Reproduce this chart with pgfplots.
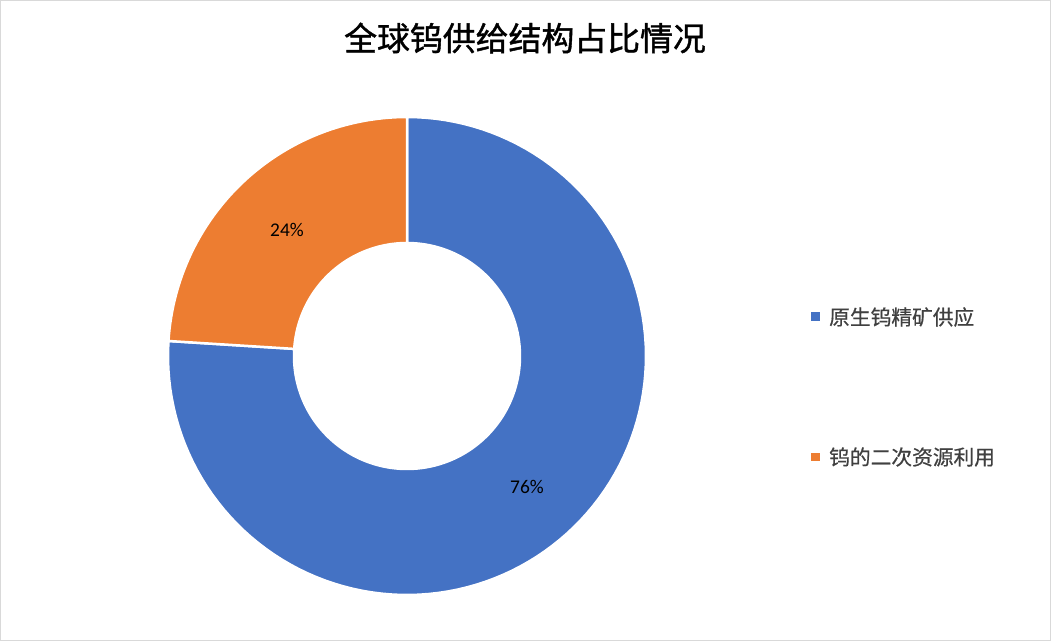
\documentclass[border=0pt]{standalone}
\usepackage{pgfplots}
\pgfplotsset{compat=1.18}
\usepackage{pgfplotstable}
\usepgfplotslibrary{fillbetween}
\usepackage{fontspec}
\setmainfont{Carlito}
\newfontfamily\cjk[FakeBold=0.6]{Noto Sans CJK SC}
\newfontfamily\cjktitle[FakeBold=1.2]{Noto Sans CJK SC}

\definecolor{primary}{HTML}{4472C4}
\definecolor{secondary}{HTML}{ED7D31}
\definecolor{legendtext}{HTML}{404040}
\definecolor{frame}{HTML}{D9D9D9}

% share of global tungsten supply, in percent
\pgfplotstableread{
source value
primary 76
secondary 24
}\supply

\pgfplotstablegetelem{0}{value}\of\supply
\let\vPrimary\pgfplotsretval
\pgfplotstablegetelem{1}{value}\of\supply
\let\vSecondary\pgfplotsretval

% slices run clockwise from twelve o'clock
\pgfmathsetmacro{\aStart}{90}
\pgfmathsetmacro{\aMid}{90-3.6*\vPrimary}
\pgfmathsetmacro{\aEnd}{\aMid-3.6*\vSecondary}

\def\cx{407}
\def\cy{285}
\def\Ro{239}
\def\Ri{113}

\begin{document}
\begin{tikzpicture}
\begin{axis}[
  width=1051bp, height=641bp, scale only axis,
  xmin=0, xmax=1051, ymin=0, ymax=641,
  hide axis, clip=false,
]
% outer frame
\draw[frame, line width=1bp] (axis cs:0.5,0.5) rectangle (axis cs:1050.5,640.5);

% primary concentrate slice
\addplot[draw=none, name path=oA, domain=\aMid:\aStart, samples=120]
  ({\cx+\Ro*cos(x)}, {\cy+\Ro*sin(x)});
\addplot[draw=none, name path=iA, domain=\aMid:\aStart, samples=120]
  ({\cx+\Ri*cos(x)}, {\cy+\Ri*sin(x)});
\addplot[fill=primary, draw=white, line width=2.5bp] fill between[of=oA and iA];

% secondary resources slice
\addplot[draw=none, name path=oB, domain=\aEnd:\aMid, samples=60]
  ({\cx+\Ro*cos(x)}, {\cy+\Ro*sin(x)});
\addplot[draw=none, name path=iB, domain=\aEnd:\aMid, samples=60]
  ({\cx+\Ri*cos(x)}, {\cy+\Ri*sin(x)});
\addplot[fill=secondary, draw=white, line width=2.5bp] fill between[of=oB and iB];

% data labels
\node[font=\fontsize{19.5}{22}\selectfont, text=black] at (axis cs:287,411) {\vSecondary\%};
\node[font=\fontsize{19.5}{22}\selectfont, text=black] at (axis cs:527,154) {\vPrimary\%};

% title
\node[font=\cjktitle\fontsize{33}{38}\selectfont, text=black] at (axis cs:525,603) {全球钨供给结构占比情况};

% legend
\fill[primary] (axis cs:811,320) rectangle (axis cs:819.5,328.5);
\node[anchor=west, inner sep=0pt, font=\cjk\fontsize{20.8}{24}\selectfont, text=legendtext]
  at (axis cs:829,324) {原生钨精矿供应};
\fill[secondary] (axis cs:811,180) rectangle (axis cs:819.5,188.5);
\node[anchor=west, inner sep=0pt, font=\cjk\fontsize{20.8}{24}\selectfont, text=legendtext]
  at (axis cs:829,184) {钨的二次资源利用};
\end{axis}
\end{tikzpicture}
\end{document}
